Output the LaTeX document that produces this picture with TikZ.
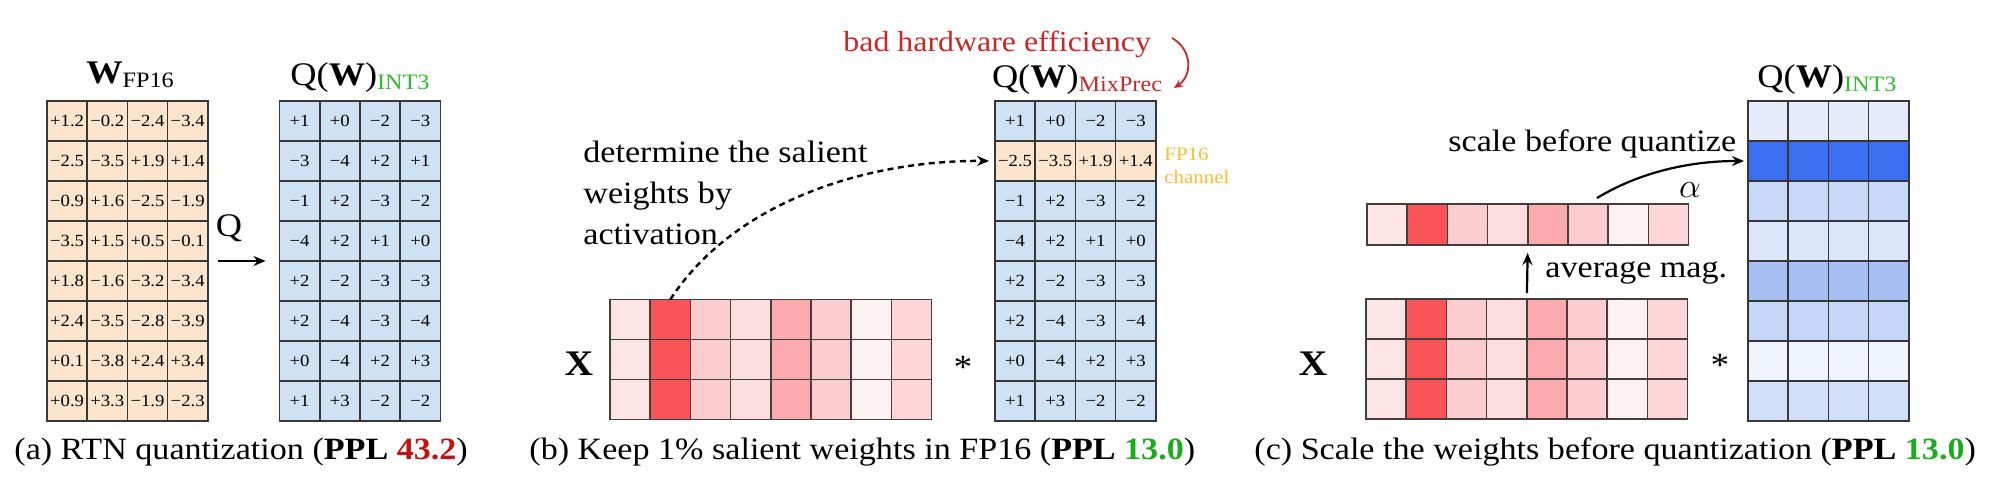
\documentclass[tikz,border=0pt]{standalone}
\usepackage{fontspec}
\setmainfont{Liberation Serif}[FakeStretch=1.1]
\usetikzlibrary{arrows.meta}
\definecolor{gridc}{RGB}{55,55,55}
\definecolor{xgrid}{RGB}{70,60,60}
\definecolor{peach}{RGB}{252,229,205}
\definecolor{lblue}{RGB}{207,226,243}
\definecolor{pplred}{RGB}{192,20,20}
\definecolor{pplgreen}{RGB}{30,170,30}
\definecolor{intgreen}{RGB}{50,185,50}
\definecolor{badred}{RGB}{200,40,40}
\definecolor{fpyellow}{RGB}{240,190,60}
\definecolor{xr1}{RGB}{253,228,229}
\definecolor{xr2}{RGB}{249,85,88}
\definecolor{xr3}{RGB}{252,205,207}
\definecolor{xr4}{RGB}{253,222,223}
\definecolor{xr5}{RGB}{251,170,173}
\definecolor{xr6}{RGB}{252,204,206}
\definecolor{xr7}{RGB}{254,242,242}
\definecolor{xr8}{RGB}{253,215,216}
\definecolor{blu1}{RGB}{228,236,252}
\definecolor{blu2}{RGB}{60,110,240}
\definecolor{blu3}{RGB}{200,216,248}
\definecolor{blu4}{RGB}{220,230,250}
\definecolor{blu5}{RGB}{166,192,244}
\definecolor{blu6}{RGB}{198,214,248}
\definecolor{blu7}{RGB}{240,244,253}
\definecolor{blu8}{RGB}{210,223,249}
\newcommand{\wsub}[1]{\raisebox{-2pt}{\fontsize{11}{13}\selectfont #1}}
\def\qvals{{+1,+0,−2,−3},{−3,−4,+2,+1},{−1,+2,−3,−2},{−4,+2,+1,+0},{+2,−2,−3,−3},{+2,−4,−3,−4},{+0,−4,+2,+3},{+1,+3,−2,−2}}
\def\qbvals{{+1,+0,−2,−3},{−2.5,−3.5,+1.9,+1.4},{−1,+2,−3,−2},{−4,+2,+1,+0},{+2,−2,−3,−3},{+2,−4,−3,−4},{+0,−4,+2,+3},{+1,+3,−2,−2}}
\def\wvals{{+1.2,−0.2,−2.4,−3.4},{−2.5,−3.5,+1.9,+1.4},{−0.9,+1.6,−2.5,−1.9},{−3.5,+1.5,+0.5,−0.1},{+1.8,−1.6,−3.2,−3.4},{+2.4,−3.5,−2.8,−3.9},{+0.1,−3.8,+2.4,+3.4},{+0.9,+3.3,−1.9,−2.3}}
\begin{document}
\begin{tikzpicture}[x=0.5pt,y=-0.5pt,
  cell/.style={draw=gridc, line width=0.8pt, minimum width=20.1pt, minimum height=20pt, inner sep=0pt, outer sep=0pt, font=\fontsize{8.5}{10}\selectfont},
  xcell/.style={cell, draw=xgrid},
  title/.style={anchor=base, inner sep=0pt, font=\fontsize{16.5}{20}\selectfont},
  note/.style={inner sep=0pt, font=\fontsize{15.5}{20.5}\selectfont},
  captxt/.style={anchor=base west, inner sep=0pt, font=\fontsize{15.5}{18}\selectfont},
  big/.style={inner sep=0pt, font=\fontsize{18}{20}\selectfont\bfseries},
  arr/.style={line width=1.1pt, -{Stealth[length=6pt,width=5pt]}}
]
\useasboundingbox (0,0) rectangle (2000,486);

% ---------- panel (a) ----------
\foreach \row [count=\r] in \wvals
  \foreach \v [count=\c] in \row
    \node[cell, fill=peach] (wa-\r-\c) at ({47+40.2*(\c-0.5)},{101+40*(\r-0.5)}) {\v};
\foreach \row [count=\r] in \qvals
  \foreach \v [count=\c] in \row
    \node[cell, fill=lblue] (qa-\r-\c) at ({279.5+40.2*(\c-0.5)},{101+40*(\r-0.5)}) {\v};
\node[title] (wat) at (130,84) {\textbf{W}\wsub{FP16}};
\node[title] (qat) at (360,86) {Q(\textbf{W})\wsub{\textcolor{intgreen}{INT3}}};
\draw[arr] ([xshift=5pt]wa-4-4.south east) -- ([xshift=-7pt]qa-4-1.south west);
\node[inner sep=0pt, font=\fontsize{16.5}{20}\selectfont] (qlab) at (229,228) {Q};
\node[captxt] (capa) at (14,459) {(a) RTN quantization (\textbf{PPL \textcolor{pplred}{43.2}})};

% ---------- panel (b) ----------
\foreach \c in {1,...,8}
  \foreach \r in {1,2,3}
    \node[xcell, fill=xr\c] (xb-\r-\c) at ({610+40.2*(\c-0.5)},{299.5+40*(\r-0.5)}) {};
\node[big] (xbl) at (579,364) {X};
\node[inner sep=0pt, font=\fontsize{17}{20}\selectfont] (astb) at (963,367) {*};
\foreach \row [count=\r] in \qbvals {
  \ifnum\r=2 \def\cf{peach}\else\def\cf{lblue}\fi
  \foreach \v [count=\c] in \row
    \node[cell, fill=\cf] (qb-\r-\c) at ({995+40.2*(\c-0.5)},{101+40*(\r-0.5)}) {\v};
}
\node[title] (qbt) at (1077,88) {Q(\textbf{W})\wsub{\textcolor{badred}{MixPrec}}};
\node[inner sep=0pt, anchor=north west, align=left, text=fpyellow, font=\fontsize{9.5}{11.5}\selectfont] (fpch) at (1164,148) {FP16\\channel};
\node[note, anchor=north west, align=left] (det) at (583,141) {determine the salient\\weights by\\activation};
\draw[line width=1.2pt, dash pattern=on 3pt off 2.2pt, -{Stealth[length=6pt,width=5pt]}]
  (xb-1-2.north) .. controls (735,200) and (870,160) .. ([xshift=-3pt]qb-2-1.west);
\node[inner sep=0pt, anchor=base west, text=badred, font=\fontsize{14.5}{18}\selectfont] (bad) at (843,52) {bad hardware efficiency};
\coordinate (bads) at (1172,38);
\coordinate (bade) at (1174,88);
\draw[badred, line width=0.9pt, -{Stealth[length=4.5pt,width=4pt]}] (bads) .. controls (1193,50) and (1192,76) .. (bade);
\node[captxt] (capb) at (529,459) {(b) Keep 1\% salient weights in FP16 (\textbf{PPL \textcolor{pplgreen}{13.0}})};

% ---------- panel (c) ----------
\foreach \c in {1,...,8}
  \foreach \r in {1,2,3}
    \node[xcell, fill=xr\c] (xc-\r-\c) at ({1366+40.2*(\c-0.5)},{299+40*(\r-0.5)}) {};
\foreach \c in {1,...,8}
  \node[xcell, fill=xr\c, minimum height=20.5pt] (vc-\c) at ({1367+40.2*(\c-0.5)},224.5) {};
\node[big] (xcl) at (1313,364) {X};
\node[inner sep=0pt, font=\fontsize{17}{20}\selectfont] (astc) at (1720,365) {*};
\foreach \r in {1,...,8}
  \foreach \c in {1,...,4}
    \node[cell, fill=blu\r] (qc-\r-\c) at ({1748+40.2*(\c-0.5)},{101+40*(\r-0.5)}) {};
\node[title] (qct) at (1827,88) {Q(\textbf{W})\wsub{\textcolor{intgreen}{INT3}}};
\draw[arr, shorten <=3pt, shorten >=4pt] (xc-1-4.north east) -- (vc-4.south east);
\node[note, anchor=base west] (avg) at (1545,278) {average mag.};
\node[note, anchor=base west] (scl) at (1448,152) {scale before quantize};
\coordinate (scs) at (1597,198);
\draw[arr] (scs) .. controls (1640,172) and (1690,161) .. ([xshift=-2pt]qc-2-1.west);
\node[inner sep=0pt, font=\fontsize{18}{20}\selectfont] (alpha) at (1690,190) {$\alpha$};
\node[captxt] (capc) at (1254,459) {(c) Scale the weights before quantization (\textbf{PPL \textcolor{pplgreen}{13.0}})};
\end{tikzpicture}
\end{document}
